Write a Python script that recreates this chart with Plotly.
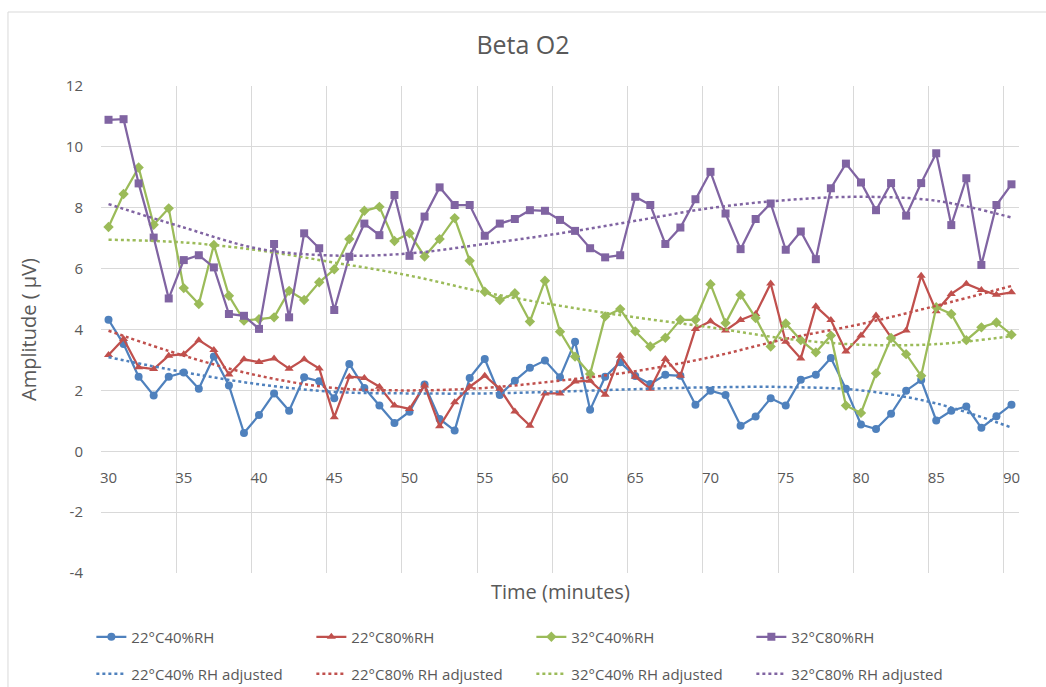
import plotly.graph_objects as go

minutes = list(range(30, 91))
trend_minutes = list(range(30, 91, 5))
x_ticks = list(range(30, 91, 5))
y_tick_vals = [-4, -2, 0, 2, 4, 6, 8, 10, 12]
y_tick_text = ["-4", "-2", "0", "2", "4", "6", "8", "10", "12"]

s22_40 = [4.32, 3.52, 2.45, 1.83, 2.45, 2.59, 2.05, 3.11, 2.16, 0.60, 1.19, 1.90, 1.33, 2.43, 2.30, 1.74,
          2.87, 2.08, 1.50, 0.93, 1.30, 2.19, 1.06, 0.68, 2.41, 3.03, 1.85, 2.32, 2.74, 2.98, 2.43,
          3.60, 1.36, 2.45, 2.92, 2.47, 2.21, 2.51, 2.48, 1.53, 1.99, 1.85, 0.84, 1.14, 1.74, 1.50,
          2.35, 2.51, 3.06, 2.05, 0.88, 0.73, 1.23, 1.99, 2.34, 1.01, 1.33, 1.47, 0.77, 1.15, 1.53]
s22_80 = [3.16, 3.69, 2.76, 2.70, 3.14, 3.19, 3.65, 3.33, 2.52, 3.02, 2.93, 3.05, 2.71, 3.02, 2.72, 1.12,
          2.45, 2.41, 2.12, 1.50, 1.39, 2.16, 0.82, 1.61, 2.12, 2.48, 2.05, 1.31, 0.84, 1.90, 1.90,
          2.29, 2.32, 1.86, 3.14, 2.45, 2.05, 3.03, 2.48, 4.02, 4.27, 3.97, 4.31, 4.51, 5.51, 3.60,
          3.05, 4.76, 4.31, 3.28, 3.80, 4.46, 3.74, 3.97, 5.77, 4.60, 5.17, 5.50, 5.30, 5.14, 5.22]
s32_40 = [7.37, 8.45, 9.32, 7.44, 7.98, 5.36, 4.84, 6.78, 5.11, 4.29, 4.34, 4.40, 5.27, 4.97, 5.55, 5.98,
          6.97, 7.90, 8.03, 6.91, 7.16, 6.40, 6.97, 7.66, 6.26, 5.24, 4.97, 5.19, 4.26, 5.60, 3.93,
          3.11, 2.54, 4.43, 4.67, 3.94, 3.44, 3.73, 4.32, 4.32, 5.49, 4.21, 5.14, 4.38, 3.44, 4.20,
          3.65, 3.25, 3.80, 1.50, 1.26, 2.56, 3.72, 3.19, 2.48, 4.73, 4.51, 3.65, 4.07, 4.23, 3.83]
s32_80 = [10.89, 10.91, 8.80, 7.02, 5.02, 6.28, 6.44, 6.04, 4.51, 4.45, 4.02, 6.81, 4.40, 7.16, 6.67, 4.64,
          6.39, 7.48, 7.10, 8.42, 6.42, 7.71, 8.67, 8.09, 8.09, 7.08, 7.48, 7.63, 7.92, 7.90, 7.60,
          7.24, 6.67, 6.37, 6.44, 8.36, 8.09, 6.81, 7.35, 8.28, 9.18, 7.81, 6.64, 7.63, 8.14, 6.62,
          7.22, 6.31, 8.64, 9.45, 8.83, 7.92, 8.81, 7.74, 8.81, 9.79, 7.43, 8.97, 6.12, 8.09, 8.77]

t22_40 = [3.09, 2.60, 2.20, 1.95, 1.90, 1.90, 1.96, 2.04, 2.10, 2.11, 2.00, 1.57, 0.78]
t22_80 = [3.96, 3.14, 2.48, 2.08, 2.00, 2.08, 2.32, 2.63, 3.09, 3.69, 4.18, 4.78, 5.43]
t32_40 = [6.95, 6.86, 6.60, 6.20, 5.77, 5.22, 4.78, 4.40, 4.07, 3.70, 3.50, 3.52, 3.78]
t32_80 = [8.12, 7.35, 6.65, 6.43, 6.50, 6.81, 7.16, 7.57, 7.99, 8.25, 8.36, 8.23, 7.68]

names = ["22°C40%RH", "22°C80%RH", "32°C40%RH", "32°C80%RH"]
trend_names = ["22°C40% RH adjusted", "22°C80% RH adjusted", "32°C40% RH adjusted", "32°C80% RH adjusted"]
colors = ["#4F81BD", "#C0504D", "#9BBB59", "#8064A2"]
symbols = ["circle", "triangle-up", "diamond", "square"]
marker_sizes = [8, 8, 8, 8]

fig = go.Figure()
for name, ys, c, sym, ms in zip(names, [s22_40, s22_80, s32_40, s32_80], colors, symbols, marker_sizes):
    fig.add_trace(go.Scatter(x=minutes, y=ys, name=name, mode="lines+markers",
                             line=dict(color=c, width=2.25),
                             marker=dict(symbol=sym, size=ms, color=c),
                             legend="legend"))
for name, ys, c in zip(trend_names, [t22_40, t22_80, t32_40, t32_80], colors):
    fig.add_trace(go.Scatter(x=trend_minutes, y=ys, name=name, mode="lines",
                             line=dict(color=c, width=2.5, dash="dot", shape="spline", smoothing=1.0),
                             legend="legend2"))

grid = "#D9D9D9"
txt = "#595959"
font_family = "Open Sans"

fig.update_layout(
    width=1046, height=687,
    margin=dict(l=101, r=27, t=86, b=114, autoexpand=False),
    paper_bgcolor="white", plot_bgcolor="white",
    font=dict(family=font_family, color=txt, size=15),
    title=dict(text="Beta O2", x=0.5, xref="container", xanchor="center",
               y=1 - 45 / 687, yref="container", yanchor="middle",
               font=dict(size=25, color=txt, family=font_family)),
    xaxis=dict(range=[29.5, 90.5], tickmode="array", tickvals=x_ticks,
               showgrid=False, zeroline=False, showline=False, automargin=False,
               anchor="free", position=0.25, ticks="", ticklabelstandoff=16,
               tickfont=dict(size=15, color=txt),
               minor=dict(tick0=29.5, dtick=5, showgrid=True, gridcolor=grid, gridwidth=1)),
    yaxis=dict(range=[-4, 12], tickmode="array", tickvals=y_tick_vals, ticktext=y_tick_text,
               showgrid=True, gridcolor=grid, gridwidth=1, automargin=False,
               zeroline=True, zerolinecolor=grid, zerolinewidth=1, showline=False,
               ticks="outside", ticklen=14, tickcolor="rgba(0,0,0,0)", tickfont=dict(size=15, color=txt),
               title=dict(text="Amplitude ( μV)", font=dict(size=20, color=txt), standoff=23)),
    legend=dict(orientation="h", x=-0.0105, xanchor="left", y=(573 - 637) / 487, yanchor="middle",
                entrywidth=175, entrywidthmode="pixels", font=dict(size=15, color=txt),
                bgcolor="rgba(0,0,0,0)", traceorder="normal"),
    legend2=dict(orientation="h", x=-0.0105, xanchor="left", y=(573 - 674) / 487, yanchor="middle",
                 entrywidth=175, entrywidthmode="pixels", font=dict(size=15, color=txt),
                 bgcolor="rgba(0,0,0,0)", traceorder="normal"),
    showlegend=True,
)

fig.add_annotation(text="Time (minutes)", x=0.5, xref="paper", y=(573 - 591) / 487, yref="paper",
                   xanchor="center", yanchor="middle", showarrow=False,
                   font=dict(size=20, color=txt, family=font_family))

fig.add_shape(type="rect", xref="paper", yref="paper",
              x0=(8 - 101) / 917.7, x1=(1060 - 101) / 917.7,
              y0=(573 - 700) / 487, y1=(573 - 12) / 487,
              line=dict(color="#D9D9D9", width=1), fillcolor="rgba(0,0,0,0)", layer="below")

fig.write_html("out.html", config={"displayModeBar": False},
               post_script="document.body.style.margin='0';")
